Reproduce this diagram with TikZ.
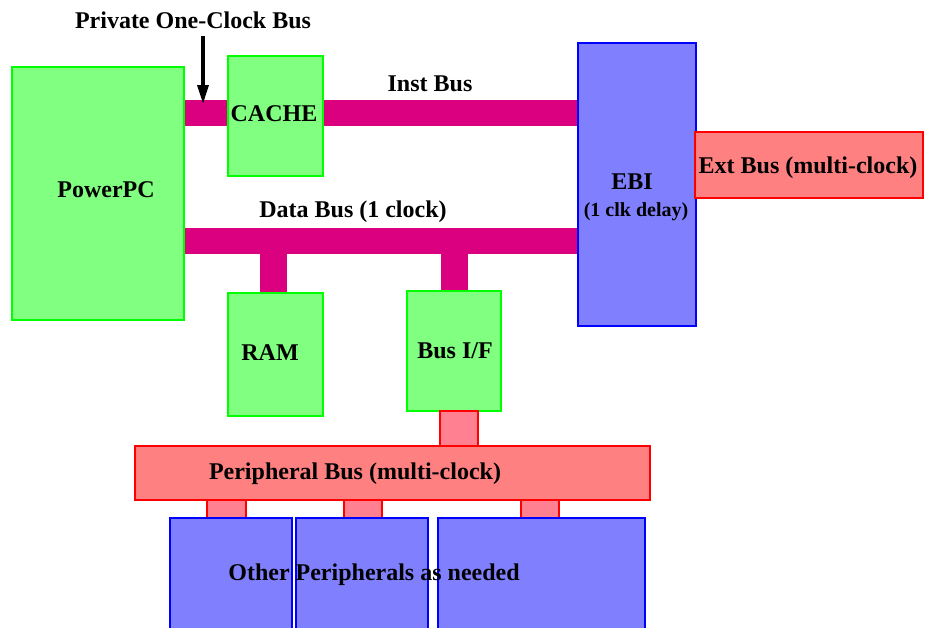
\documentclass[tikz,border=0pt]{standalone}
\usepackage{fontspec}
\setmainfont{Liberation Serif}
\usetikzlibrary{arrows.meta,backgrounds}

\definecolor{boxgreen}{RGB}{128,255,128}
\definecolor{edgegreen}{RGB}{0,255,0}
\definecolor{boxblue}{RGB}{128,128,255}
\definecolor{busmagenta}{RGB}{219,0,127}
\definecolor{busred}{RGB}{255,128,128}
\definecolor{stubpink}{RGB}{255,128,144}

\tikzset{
  bigfont/.style={font=\bfseries\fontsize{24}{28}\selectfont},
  block/.style={draw, line width=2pt, inner sep=0pt, outer sep=0pt, anchor=north west, bigfont},
  boxsize/.style 2 args={minimum width=#1, minimum height=#2},
  greenbox/.style={block, fill=boxgreen, draw=edgegreen},
  bluebox/.style={block, fill=boxblue, draw=blue},
  redbox/.style={block, fill=busred, draw=red},
  pinkstub/.style={block, fill=stubpink, draw=red, anchor=north},
  busline/.style={draw=busmagenta, line width=26pt},
  lbl/.style={bigfont, inner sep=0pt},
}

\begin{document}
\begin{tikzpicture}[x=1pt,y=-1pt]
    \useasboundingbox (0,0) rectangle (925,627);
    \clip (0,0) rectangle (925,627);

    % processor, cache and memory blocks (green)
    \node[greenbox, boxsize={172}{253}] (ppc) at (12,67) {};
    \node[lbl] (ppclbl) at (106,190) {PowerPC};
    \node[greenbox, boxsize={95}{120}] (cache) at (228,56) {};
    \node[lbl] (cachelbl) at (274,114) {CACHE};
    \node[greenbox, boxsize={95}{123}] (ram) at (228,293) {};
    \node[lbl] (ramlbl) at (270,353) {RAM};
    \node[greenbox, boxsize={94}{120}] (busif) at (407,291) {};
    \node[lbl] (busiflbl) at (455,351) {Bus I/F};

    % external bus interface and external bus
    \node[bluebox, boxsize={118}{283}] (ebi) at (578,43) {};
    \node[lbl] (ebilbl) at (632,182) {EBI};
    \node[lbl, font=\bfseries\fontsize{20}{24}\selectfont] (ebidelay) at (636,212) {(1 clk delay)};
    \node[redbox, boxsize={228}{66}] (extbus) at (695,132) {};
    \node[lbl] (extlbl) at (808,168) {Ext Bus (multi-clock)};

    % one-clock buses (magenta), behind the blocks
    \coordinate (instrow) at (0,113);
    \coordinate (datarow) at (0,241);
    \begin{scope}[on background layer]
        \draw[busline] (ppc.east |- instrow) -- (ebi.west |- instrow);
        \draw[busline] (ppc.east |- datarow) -- (ebi.west |- datarow);
        \draw[busline, line width=27pt] ([xshift=-2pt]ram.north |- datarow) -- ([xshift=-2pt]ram.north);
        \draw[busline, line width=27pt] (busif.north |- datarow) -- (busif.north);
    \end{scope}
    \node[lbl] (instlbl) at (430,84) {Inst Bus};
    \node[lbl] (datalbl) at (353,212) {Data Bus (1 clock)};

    % private bus arrow
    \node[lbl] (privlbl) at (193,20) {Private One-Clock Bus};
    \coordinate (arrowtop) at (203,36);
    \coordinate (arrowend) at (203,104);
    \draw[-{Triangle[length=19pt,width=11pt]}, line width=3.5pt] (arrowtop) -- (arrowend);

    % peripheral bus (red) with its stubs
    \node[pinkstub, boxsize={38}{37}] (ifstub) at ([xshift=5pt]busif.south) {};
    \node[redbox, boxsize={515}{54}] (perbus) at (135,446) {};
    \node[lbl] (perlbl) at (355,474) {Peripheral Bus (multi-clock)};
    \node[pinkstub, boxsize={39}{18}] (stubA) at (226.5,500) {};
    \node[pinkstub, boxsize={38}{18}] (stubB) at (363,500) {};
    \node[pinkstub, boxsize={38}{18}] (stubC) at (540,500) {};

    % peripherals (blue)
    \node[bluebox, boxsize={122}{122}] (perA) at (170,518) {};
    \node[bluebox, boxsize={132}{122}] (perB) at (296,518) {};
    \node[bluebox, boxsize={207}{122}] (perC) at (438,518) {};
    \node[lbl] (otherlbl) at (374,575) {Other Peripherals as needed};

\end{tikzpicture}
\end{document}
